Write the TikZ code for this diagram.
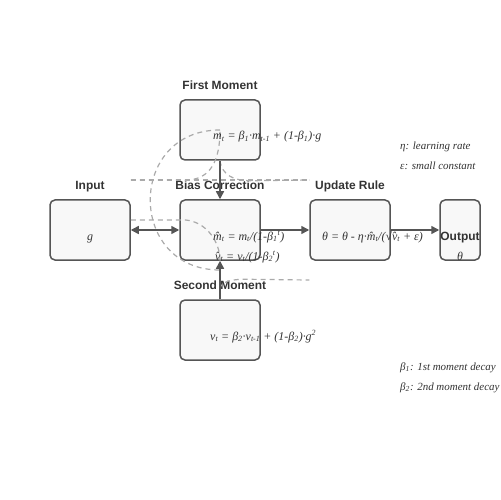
\documentclass[tikz,border=0pt]{standalone}
\usepackage{fontspec}
\setmainfont{Liberation Serif}
\setsansfont{Liberation Sans}
\usetikzlibrary{arrows.meta}
\definecolor{edgegray}{HTML}{555555}
\definecolor{ink}{HTML}{333333}
\definecolor{faint}{HTML}{AAAAAA}
\definecolor{boxfill}{HTML}{F8F8F8}
\newcommand{\sbs}[1]{\textsubscript{#1}}
\newcommand{\sps}[1]{\textsuperscript{#1}}
\begin{document}
\begin{tikzpicture}[x=1bp,y=-1bp,
  stage/.style={draw=edgegray,line width=1.5bp,fill=boxfill,rounded corners=5bp,minimum width=80bp,minimum height=60bp,inner sep=0pt},
  title/.style={font=\sffamily\bfseries\fontsize{12}{14}\selectfont,text=ink,anchor=base,inner sep=0pt},
  formula/.style={font=\itshape\fontsize{12}{14}\selectfont,text=ink,anchor=base west,inner sep=0pt},
  note/.style={formula,font=\itshape\fontsize{11}{14}\selectfont},
  flow/.style={draw=edgegray,line width=1.5bp,-{Triangle[length=8bp,width=8bp]}},
  twoway/.style={draw=edgegray,line width=1.5bp,{Triangle[length=8bp,width=8bp]}-{Triangle[length=8bp,width=8bp]}},
  ghost/.style={draw=faint,line width=1.2bp,dash pattern=on 5bp off 4bp}]
\useasboundingbox (0,0) rectangle (500,500);
\node[stage] (fm) at (220,130) {};
\node[stage] (in) at (90,230) {};
\node[stage] (bc) at (220,230) {};
\node[stage] (ur) at (350,230) {};
\node[stage,minimum width=40bp] (out) at (460,230) {};
\node[stage] (sm) at (220,330) {};
\node[title] (fmtitle) at ([yshift=10bp]fm.north) {First Moment};
\node[title] (intitle) at ([yshift=10bp]in.north) {Input};
\node[title] (bctitle) at ([yshift=10bp]bc.north) {Bias Correction};
\node[title] (urtitle) at ([yshift=10bp]ur.north) {Update Rule};
\node[title] (smtitle) at ([yshift=10bp]sm.north) {Second Moment};
\coordinate (fmbend) at ([xshift=30bp,yshift=-20bp]fm.south);
\coordinate (smbend) at ([xshift=25bp,yshift=20bp]sm.north);
\coordinate (bcbelow) at ([yshift=-40bp]bc.center);
\draw[ghost] ([yshift=50bp]in.east) -- ([yshift=50bp]ur.west);
\draw[ghost] ([yshift=50bp]in.east) -- +(55,0) .. controls +(25,0) and +(0,30) .. (fm.center);
\draw[ghost] (fm.south) .. controls +(2,15) and +(-15,0) .. (fmbend) -- ([yshift=50bp]ur.west);
\draw[ghost] ([yshift=10bp]in.east) -- +(55,0) .. controls +(20,2) and +(0,-20) .. (bc.south);
\draw[ghost] (fm.center) .. controls +(-93,0) and +(-93,0) .. (bcbelow);
\draw[ghost] ([yshift=10bp]sm.north) .. controls +(0,-8) and +(-12,0) .. (smbend) -- ([yshift=-50bp]ur.west);
\draw[flow] (fm.south) -- (bc.north);
\draw[twoway] (in.east) -- (bc.west);
\draw[flow] (bc.east) -- (ur.west);
\draw[flow] (ur.east) -- (out.west);
\draw[flow] (sm.north) -- (bc.south);
\node[formula] (fmeq) at (213,140) {m\sbs{t} = β\sbs{1}·m\sbs{t-1} + (1-β\sbs{1})·g};
\node[formula,anchor=base] (ineq) at (90,240) {g};
\node[formula] (bceqm) at (213,240) {\^{m}\sbs{t} = m\sbs{t}/(1-β\sbs{1}\sps{t})};
\node[formula] (bceqv) at (215,260) {\^{v}\sbs{t} = v\sbs{t}/(1-β\sbs{2}\sps{t})};
\node[formula] (ureq) at (322,240) {θ = θ - η·\^{m}\sbs{t}/(√\^{v}\sbs{t} + ε)};
\node[title] (outtitle) at (460,240) {Output};
\node[formula,anchor=base] (outeq) at (460,260) {θ};
\node[formula] (smeq) at (210,340) {v\sbs{t} = β\sbs{2}·v\sbs{t-1} + (1-β\sbs{2})·g\sps{2}};
\node[note] (lreta) at (400,150) {η: learning rate};
\node[note] (lreps) at (400,170) {ε: small constant};
\node[note] (lrbone) at (400,370) {β\sbs{1}: 1st moment decay};
\node[note] (lrbtwo) at (400,390) {β\sbs{2}: 2nd moment decay};
\end{tikzpicture}
\end{document}
